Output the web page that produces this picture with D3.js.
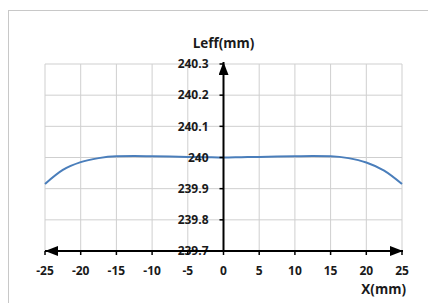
<!DOCTYPE html>
<html>
<head>
<meta charset="utf-8">
<script src="https://d3js.org/d3.v7.min.js"></script>
<style>
  body { margin: 0; background: #fff; }
  text { font-family: "Open Sans", "Liberation Sans", sans-serif; font-weight: 700; fill: #1a1a1a; }
</style>
</head>
<body>
<script>
// values
var xs = [-25, -22.5, -20, -17.5, -15, -12.5, -10, -7.5, -5, -2.5, 0, 2.5, 5, 7.5, 10, 12.5, 15, 17.5, 20, 22.5, 25];
var leff = [239.915, 239.960, 239.985, 239.998, 240.004, 240.005, 240.004, 240.003, 240.002, 240.001, 240.000,
            240.001, 240.002, 240.003, 240.004, 240.005, 240.004, 239.998, 239.984, 239.958, 239.915];
var xTicks = [-25, -20, -15, -10, -5, 0, 5, 10, 15, 20, 25];
var yTicks = [239.7, 239.8, 239.9, 240, 240.1, 240.2, 240.3];

var svg = d3.select("body").append("svg").attr("width", 428).attr("height", 303);

// outer frame (only left and top are visible)
svg.append("rect").attr("x", 8.5).attr("y", 10.5).attr("width", 440).attr("height", 320)
  .attr("fill", "none").attr("stroke", "#c8c8c8");

var x = d3.scaleLinear().domain([-25, 25]).range([45, 402]);
var y = d3.scaleLinear().domain([239.7, 240.3]).range([251, 64]);

// grid
svg.append("g").selectAll("line").data(xTicks).enter().append("line")
  .attr("x1", d => x(d)).attr("x2", d => x(d)).attr("y1", y(240.3)).attr("y2", y(239.7))
  .attr("stroke", "#cfcfcf").attr("stroke-width", 1);
svg.append("g").selectAll("line").data(yTicks).enter().append("line")
  .attr("x1", x(-25)).attr("x2", x(25)).attr("y1", d => y(d)).attr("y2", d => y(d))
  .attr("stroke", "#cfcfcf").attr("stroke-width", 1);

// curve
var line = d3.line().x((d, i) => x(xs[i])).y(d => y(d)).curve(d3.curveMonotoneX);
svg.append("path").datum(leff).attr("d", line)
  .attr("fill", "none").attr("stroke", "#4a7ebb").attr("stroke-width", 2);

// arrowheads
var defs = svg.append("defs");
defs.append("marker").attr("id", "arr").attr("viewBox", "0 0 13 10").attr("refX", 13).attr("refY", 5)
  .attr("markerWidth", 13).attr("markerHeight", 10).attr("markerUnits", "userSpaceOnUse").attr("orient", "auto-start-reverse")
  .append("path").attr("d", "M0,0L13,5L0,10z").attr("fill", "#000");

// y axis ticks + labels
var yAx = svg.append("g");
yAx.selectAll("line").data(yTicks).enter().append("line")
  .attr("x1", x(0) - 4).attr("x2", x(0)).attr("y1", d => y(d)).attr("y2", d => y(d))
  .attr("stroke", "#000").attr("stroke-width", 1.5);
yAx.selectAll("text").data(yTicks).enter().append("text")
  .attr("x", x(0) - 15).attr("y", d => y(d)).attr("dy", "0.35em").attr("text-anchor", "end")
  .attr("font-size", 12).text(d => d3.format("")(+d.toFixed(1)));

// x axis ticks + labels
var xAx = svg.append("g");
xAx.selectAll("line").data(xTicks).enter().append("line")
  .attr("x1", d => x(d)).attr("x2", d => x(d)).attr("y1", y(239.7)).attr("y2", y(239.7) + 4)
  .attr("stroke", "#000").attr("stroke-width", 1.5);
xAx.selectAll("text").data(xTicks).enter().append("text")
  .attr("x", d => x(d)).attr("y", 275).attr("text-anchor", "middle")
  .attr("font-size", 12).text(d => d);

// axis lines with arrows
svg.append("line").attr("x1", x(0)).attr("x2", x(0)).attr("y1", y(239.7)).attr("y2", y(240.3) - 2)
  .attr("stroke", "#000").attr("stroke-width", 2).attr("marker-end", "url(#arr)");
svg.append("line").attr("x1", x(-25)).attr("x2", x(25) + 1).attr("y1", y(239.7)).attr("y2", y(239.7))
  .attr("stroke", "#000").attr("stroke-width", 2)
  .attr("marker-start", "url(#arr)").attr("marker-end", "url(#arr)");

// titles
svg.append("text").attr("x", x(0)).attr("y", 48).attr("text-anchor", "middle").attr("font-size", 13.5).text("Leff(mm)");
svg.append("text").attr("x", 406).attr("y", 294).attr("text-anchor", "end").attr("font-size", 13.5).text("X(mm)");
</script>
</body>
</html>
